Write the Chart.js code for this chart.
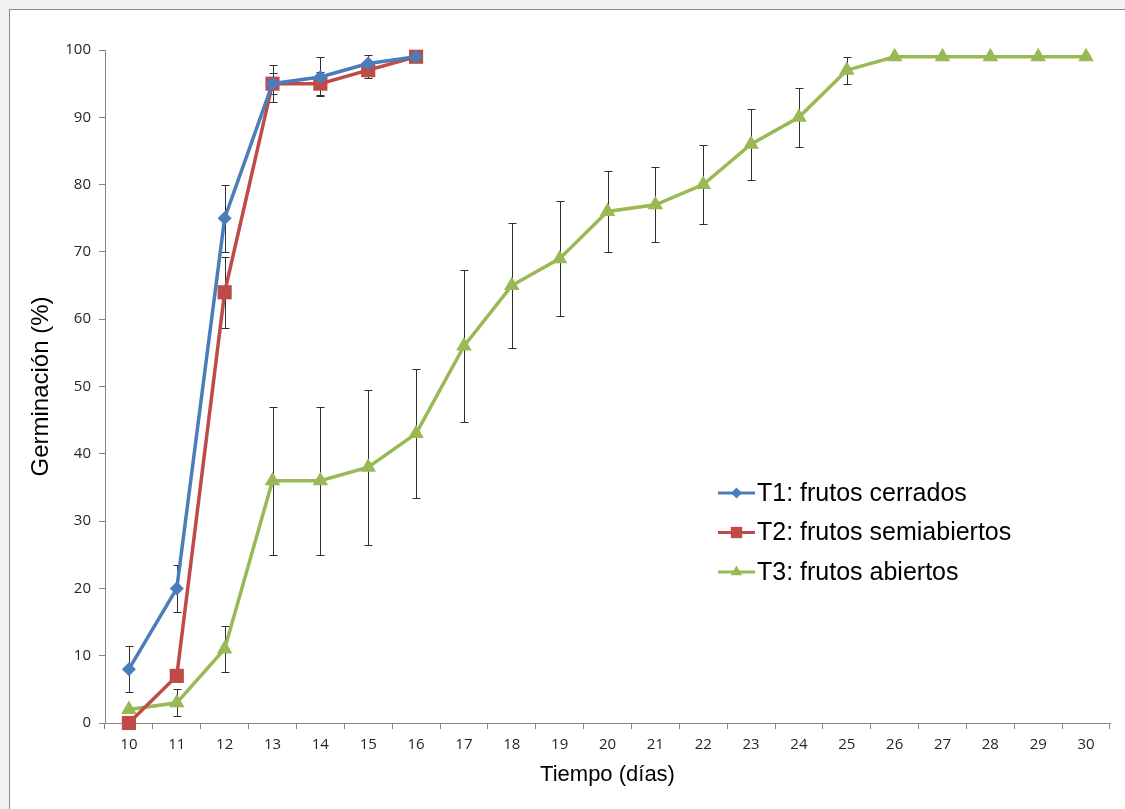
<!DOCTYPE html>
<html>
<head>
<meta charset="utf-8">
<title>Germinación</title>
<script src="https://cdn.jsdelivr.net/npm/chart.js@4/dist/chart.umd.min.js"></script>
<style>
    html, body { margin: 0; padding: 0; background: #f2f2f2; overflow: hidden; }
    #frame {
        position: absolute; left: 9px; top: 9px; width: 1125px; height: 809px;
        background: #fff; border-left: 1px solid #8a8a8a; border-top: 1px solid #8a8a8a;
    }
    #germChart { position: absolute; left: 0; top: 0; }
</style>
</head>
<body>
<div id="frame"></div>
<canvas id="germChart" width="1125" height="809"></canvas>
<script>
// ========== DATA ==========
const days = ['10','11','12','13','14','15','16','17','18','19','20','21','22','23','24','25','26','27','28','29','30'];

const t1Values = [8, 20, 75, 95, 96, 98, 99];
const t1Errors = [3.4, 3.5, 5, 2.8, 2.9, 1.2, 0];

const t2Values = [0, 7, 64, 95, 95, 97, 99];
const t2Errors = [0, 0, 5.3, 1.6, 1.7, 1.1, 0];

const t3Values = [2, 3, 11, 36, 36, 38, 43, 56, 65, 69, 76, 77, 80, 86, 90, 97, 99, 99, 99, 99, 99];
const t3Errors = [0, 2, 3.4, 11, 11, 11.5, 9.6, 11.3, 9.3, 8.5, 6, 5.6, 5.9, 5.3, 4.4, 2, 0, 0, 0, 0, 0];

const yTicks = { min: 0, max: 100, step: 10 };

// ========== STYLE ==========
const AXIS_GREY = '#868686';
const TICK_FONT = { family: '"Open Sans", sans-serif', size: 15 };
const TITLE_FAMILY = '"Liberation Sans", Arial, sans-serif';

// ========== PLUGINS ==========
// vertical error bars, drawn under the lines
const errorBars = {
    id: 'errorBars',
    beforeDatasetsDraw(chart) {
        const ctx = chart.ctx;
        const yScale = chart.scales.y;
        ctx.save();
        ctx.strokeStyle = '#2f2f2f';
        ctx.lineWidth = 1;
        chart.data.datasets.forEach((ds, i) => {
            const meta = chart.getDatasetMeta(i);
            (ds.errors || []).forEach((err, j) => {
                if (!err || !meta.data[j]) return;
                const x = Math.round(meta.data[j].x) + 0.5;
                const top = Math.round(yScale.getPixelForValue(ds.data[j] + err)) + 0.5;
                const bot = Math.round(yScale.getPixelForValue(ds.data[j] - err)) + 0.5;
                ctx.beginPath();
                ctx.moveTo(x, top); ctx.lineTo(x, bot);
                ctx.moveTo(x - 4, top); ctx.lineTo(x + 4, top);
                ctx.moveTo(x - 4, bot); ctx.lineTo(x + 4, bot);
                ctx.stroke();
            });
        });
        ctx.restore();
    }
};

// line + marker legend placed inside the plot
const insideLegend = {
    id: 'insideLegend',
    afterDraw(chart) {
        const ctx = chart.ctx;
        const x0 = 718, y0 = 493, rowGap = 39.5, lineLen = 37;
        ctx.save();
        ctx.font = '25px ' + TITLE_FAMILY;
        ctx.textBaseline = 'middle';
        ctx.textAlign = 'left';
        chart.data.datasets.forEach((ds, i) => {
            const y = y0 + i * rowGap;
            ctx.strokeStyle = ds.borderColor;
            ctx.lineWidth = 3;
            ctx.beginPath();
            ctx.moveTo(x0, y); ctx.lineTo(x0 + lineLen, y);
            ctx.stroke();
            ctx.fillStyle = ds.borderColor;
            Chart.helpers.drawPoint(ctx, {
                pointStyle: ds.pointStyle,
                radius: ds.legendRadius,
                rotation: 0,
                borderWidth: 0
            }, x0 + lineLen / 2, y);
            ctx.fillStyle = '#000';
            ctx.fillText(ds.label, x0 + lineLen + 2, y + 1);
        });
        ctx.restore();
    }
};

// ========== CHART ==========
function series(label, values, errors, color, style, radius, legendRadius) {
    return {
        label: label,
        data: values,
        errors: errors,
        borderColor: color,
        backgroundColor: color,
        borderWidth: 3.5,
        pointStyle: style,
        pointRadius: radius,
        pointHoverRadius: radius,
        pointBorderWidth: 0,
        legendRadius: legendRadius,
        tension: 0,
        clip: false
    };
}

const ctx = document.getElementById('germChart').getContext('2d');
new Chart(ctx, {
    type: 'line',
    data: {
        labels: days,
        datasets: [
            series('T1: frutos cerrados', t1Values, t1Errors, '#4a7ebb', 'rectRot', 7, 5.5),
            series('T2: frutos semiabiertos', t2Values, t2Errors, '#be4b48', 'rect', 10, 8),
            series('T3: frutos abiertos', t3Values, t3Errors, '#98b954', 'triangle', 9, 6.5)
        ]
    },
    options: {
        responsive: false,
        devicePixelRatio: 1,
        animation: false,
        layout: { padding: { top: 50, right: 15, left: 0, bottom: 0 } },
        plugins: {
            legend: { display: false },
            tooltip: { enabled: false }
        },
        scales: {
            x: {
                type: 'category',
                offset: true,
                grid: { drawOnChartArea: false, offset: true, tickLength: 6, color: AXIS_GREY },
                border: { color: AXIS_GREY },
                ticks: { font: TICK_FONT, color: '#262626', padding: 7, maxRotation: 0, autoSkip: false },
                title: {
                    display: true,
                    text: 'Tiempo (días)',
                    font: { family: TITLE_FAMILY, size: 22 },
                    color: '#000',
                    padding: { top: 0, bottom: 21 }
                },
                afterFit: scale => { scale.height = 86; }
            },
            y: {
                min: yTicks.min,
                max: yTicks.max,
                grid: { drawOnChartArea: false, tickLength: 6, color: AXIS_GREY },
                border: { color: AXIS_GREY },
                ticks: { stepSize: yTicks.step, font: TICK_FONT, color: '#262626', padding: 8 },
                title: {
                    display: true,
                    text: 'Germinación (%)',
                    font: { family: TITLE_FAMILY, size: 24 },
                    color: '#000',
                    padding: { top: 27, bottom: 0 }
                },
                afterFit: scale => { scale.width = 105; }
            }
        }
    },
    plugins: [errorBars, insideLegend]
});
</script>
</body>
</html>
